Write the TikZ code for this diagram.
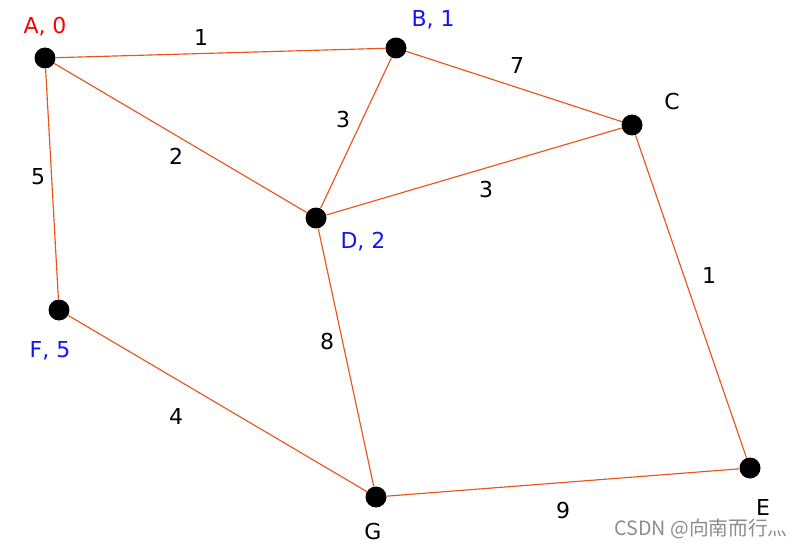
\documentclass[tikz,border=0pt]{standalone}
\usepackage{fontspec}
\setmainfont{DejaVu Sans}
\newfontfamily\cjkfont{Noto Sans CJK SC}
\usepackage{xcolor}
\usetikzlibrary{positioning}
\definecolor{cEdge}{RGB}{232,84,26}
\definecolor{cRed}{RGB}{250,0,0}
\definecolor{cBlue}{RGB}{20,20,250}

\begin{document}
\begin{tikzpicture}[x=0.02cm,y=-0.02cm,font=\fontsize{12.5}{14}\selectfont]
\tikzset{
  v/.style={circle,fill=black,inner sep=0pt,minimum size=4.2mm},
  e/.style={draw=cEdge,line width=0.65pt},
  w/.style={inner sep=0pt}
}
\useasboundingbox (0,0) rectangle (807,547);
% vertices
\node[v] (A) at (45,58) {};
\node[v] (B) at (396,48) {};
\node[v] (C) at (632,125) {};
\node[v] (D) at (316,218) {};
\node[v] (F) at (59,310) {};
\node[v] (G) at (376,497) {};
\node[v] (E) at (750,468) {};
% vertex labels
\node[w,text=cRed] (lA) at (45,27) {A, 0};
\node[w,text=cBlue] (lB) at (433,20) {B, 1};
\node[w] (lC) at (672,102) {C};
\node[w,text=cBlue] (lD) at (363,242) {D, 2};
\node[w,text=cBlue] (lF) at (50,351) {F, 5};
\node[w] (lG) at (373,531) {G};
\node[w] (lE) at (763,507) {E};
% edges
\draw[e] (A) -- (B);
\draw[e] (A) -- (D);
\draw[e] (A) -- (F);
\draw[e] (B) -- (C);
\draw[e] (B) -- (D);
\draw[e] (D) -- (C);
\draw[e] (C) -- (E);
\draw[e] (D) -- (G);
\draw[e] (F) -- (G);
\draw[e] (G) -- (E);
% weights
\node[w] (wAB) at (201,37) {1};
\node[w] (wBC) at (517,65) {7};
\node[w] (wAD) at (176,156) {2};
\node[w] (wBD) at (343,120) {3};
\node[w] (wDC) at (486,190) {3};
\node[w] (wAF) at (38,177) {5};
\node[w] (wCE) at (709,275) {1};
\node[w] (wDG) at (327,342) {8};
\node[w] (wFG) at (176,416) {4};
\node[w] (wGE) at (563,510) {9};
% watermark
\node[w,text=black!45,font=\fontsize{11.2}{12}\selectfont\cjkfont] (wm) at (701,529) {CSDN @向南而行灬};
\end{tikzpicture}
\end{document}
